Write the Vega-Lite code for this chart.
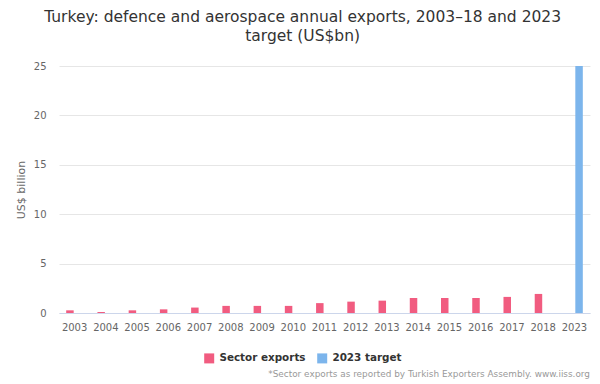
{
  "$schema": "https://vega.github.io/schema/vega-lite/v6.json",
  "padding": {"left": 15, "right": 8, "top": 9, "bottom": 4},
  "background": "#ffffff",
  "title": {
    "text": "*Sector exports as reported by Turkish Exporters Assembly. www.iiss.org",
    "orient": "bottom",
    "anchor": "end",
    "font": "DejaVu Sans",
    "fontSize": 8.9,
    "fontWeight": "normal",
    "color": "#999999",
    "offset": 6
  },
  "vconcat": [
    {
      "width": 531,
      "height": 247,
      "title": {
        "text": ["Turkey: defence and aerospace annual exports, 2003–18 and 2023", "target (US$bn)"],
        "font": "DejaVu Sans",
        "fontSize": 15.5,
        "fontWeight": "normal",
        "color": "#333333",
        "anchor": "middle",
        "frame": "bounds",
        "lineHeight": 19,
        "offset": 17
      },
      "data": {
        "values": [
          {"year": "2003", "value": 0.27, "series": "Sector exports"},
          {"year": "2004", "value": 0.1, "series": "Sector exports"},
          {"year": "2005", "value": 0.27, "series": "Sector exports"},
          {"year": "2006", "value": 0.37, "series": "Sector exports"},
          {"year": "2007", "value": 0.55, "series": "Sector exports"},
          {"year": "2008", "value": 0.72, "series": "Sector exports"},
          {"year": "2009", "value": 0.72, "series": "Sector exports"},
          {"year": "2010", "value": 0.72, "series": "Sector exports"},
          {"year": "2011", "value": 1.0, "series": "Sector exports"},
          {"year": "2012", "value": 1.15, "series": "Sector exports"},
          {"year": "2013", "value": 1.25, "series": "Sector exports"},
          {"year": "2014", "value": 1.52, "series": "Sector exports"},
          {"year": "2015", "value": 1.52, "series": "Sector exports"},
          {"year": "2016", "value": 1.52, "series": "Sector exports"},
          {"year": "2017", "value": 1.63, "series": "Sector exports"},
          {"year": "2018", "value": 1.93, "series": "Sector exports"},
          {"year": "2023", "value": 25, "series": "2023 target"}
        ]
      },
      "mark": {"type": "bar"},
      "encoding": {
        "x": {
          "field": "year",
          "type": "ordinal",
          "sort": null,
          "scale": {"paddingInner": 0, "paddingOuter": 0},
          "axis": {
            "title": null,
            "labelAngle": 0,
            "labelFont": "DejaVu Sans",
            "labelFontSize": 10,
            "labelColor": "#666666",
            "labelPadding": 9,
            "ticks": false,
            "domainColor": "#ccd6eb",
            "grid": false
          }
        },
        "xOffset": {
          "field": "series",
          "type": "nominal",
          "sort": ["Sector exports", "2023 target"],
          "scale": {"domain": ["Sector exports", "2023 target"], "paddingInner": 0.2, "paddingOuter": 0.767}
        },
        "y": {
          "field": "value",
          "type": "quantitative",
          "scale": {"domain": [0, 25], "nice": false},
          "axis": {
            "title": "US$ billion",
            "titleFont": "DejaVu Sans",
            "titleFontSize": 11,
            "titleFontWeight": "normal",
            "titleColor": "#666666",
            "titlePadding": 7,
            "values": [0, 5, 10, 15, 20, 25],
            "labelFont": "DejaVu Sans",
            "labelFontSize": 10,
            "labelColor": "#666666",
            "labelPadding": 13,
            "ticks": false,
            "domain": false,
            "gridColor": "#e6e6e6"
          }
        },
        "color": {
          "field": "series",
          "type": "nominal",
          "scale": {"domain": ["Sector exports", "2023 target"], "range": ["#f15c80", "#7cb5ec"]},
          "legend": {
            "orient": "bottom",
            "direction": "horizontal",
            "title": "\u00a0",
            "titleOrient": "right",
            "titleFontSize": 1,
            "titlePadding": 44,
            "symbolType": "square",
            "symbolSize": 100,
            "symbolStrokeWidth": 0,
            "labelFont": "DejaVu Sans",
            "labelFontSize": 10.4,
            "labelFontWeight": "bold",
            "labelColor": "#333333",
            "labelOffset": 5,
            "columnPadding": 11,
            "offset": 21
          }
        }
      }
    }
  ],
  "config": {
    "view": {"stroke": null},
    "legend": {"layout": {"bottom": {"anchor": "middle", "bounds": "full"}}}
  }
}
